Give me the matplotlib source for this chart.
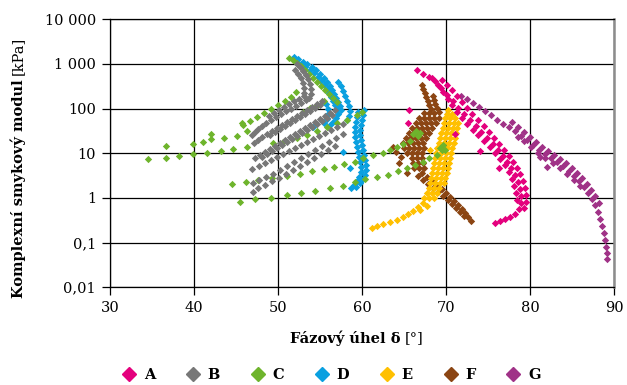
import numpy as np
import matplotlib
matplotlib.use("Agg")
import matplotlib.pyplot as plt
from matplotlib.lines import Line2D

plt.rcParams['font.family'] = ['DejaVu Serif']

# --- data: phase angle [deg] and complex shear modulus [kPa] ---
A_x = [66.5, 67.3, 68.0,
       68.69, 69.40, 70.12, 70.83, 71.43, 72.14, 72.86, 73.57, 74.17, 74.88, 75.60, 76.19, 76.79,
       77.26, 77.74, 78.21, 78.57, 78.81, 78.93, 78.93, 78.69, 78.21, 77.62, 77.02, 76.43, 75.83,
       68.33, 69.05, 69.64, 70.24, 70.71, 71.31, 71.90, 72.50, 73.21, 73.81, 74.52, 75.24, 75.83,
       76.43, 77.02, 77.50, 77.86, 78.10, 78.33, 78.45,
       69.52, 70.12, 70.71, 71.31, 71.90, 72.50, 73.10, 73.81, 74.52, 75.12, 75.71, 76.31, 76.90,
       77.50, 77.98, 78.45, 78.81, 79.17, 79.40, 79.52, 79.52, 79.29,
       65.6, 65.5, 71.1, 74.0, 76.3]
A_y = [730, 600, 510,
       416, 290, 202, 148, 103, 76, 56, 41, 30, 22, 16.2, 11.9, 8.7,
       6.4, 4.7, 3.3, 2.3, 1.59, 1.11, 0.77, 0.57, 0.44, 0.375, 0.34, 0.305, 0.275,
       485, 338, 236, 164, 121, 84, 62, 45, 33, 25.7, 18.9, 13.8, 10.2,
       7.5, 5.5, 3.8, 2.66, 1.85, 1.29, 0.90,
       438, 338, 262, 192, 141, 103, 76, 56, 41, 30, 22, 16.2, 11.9,
       8.7, 6.4, 4.7, 3.4, 2.4, 1.67, 1.17, 0.81, 0.60,
       93, 48, 27, 11.3, 4.7]

B_x = [52.26, 52.62, 52.98, 53.33, 53.57, 53.81, 53.93, 53.93, 53.69,
       52.02, 52.38, 52.74, 52.98, 53.10, 53.10,
       53.33, 52.74, 52.14, 51.55, 50.95, 50.36, 49.76, 49.17, 48.57, 48.10, 47.62, 47.26, 46.90,
       53.10, 52.50, 51.90, 51.31, 50.71, 50.12, 49.52, 48.93,
       55.24, 54.64, 54.05, 53.45, 52.86, 52.26, 51.67, 51.07, 50.48, 49.88, 49.29, 48.69, 48.10, 47.62, 47.14,
       55.00, 54.40, 53.81, 53.21, 52.62, 52.02, 51.43, 50.83, 50.24, 49.64, 49.05,
       56.79, 56.19, 55.60, 55.00, 54.40, 53.81, 53.21, 52.62, 52.02, 51.43, 50.83, 50.24, 49.64,
       49.05, 48.45, 47.86, 47.26,
       56.43, 55.83, 55.24, 54.64, 54.05, 53.45, 52.86, 52.26, 51.67, 51.07, 50.48, 49.88, 49.29,
       48.69, 48.10,
       57.74, 57.02, 56.31, 55.60, 54.88, 54.17, 53.45, 52.74, 52.02, 51.31, 50.60, 49.88, 49.17,
       48.45, 47.74, 46.90,
       57.74, 56.90, 56.07, 55.24, 54.40, 53.57, 52.74, 51.90, 51.07, 50.24, 49.40, 48.57, 47.74, 47.02,
       56.79, 55.95, 55.12, 54.29, 53.45, 52.62, 51.79, 50.95, 50.12, 49.29, 48.45, 47.62, 47.02]
B_y = [1000, 855, 697, 570, 461, 356, 275, 213, 173,
       730, 596, 485, 375, 290, 224,
       156, 134, 115, 98, 89, 76, 65, 56, 48, 41, 35, 30, 25.7,
       192, 164, 148, 127, 109, 93, 80, 68,
       148, 127, 109, 93, 80, 68, 59, 50, 43, 37, 31.6, 27, 23, 19.9, 17,
       121, 103, 89, 76, 65, 56, 48, 41, 35, 30, 25.7,
       93, 80, 68, 59, 50, 43, 37, 31.6, 27, 23, 19.9, 17, 14.6,
       12.5, 10.7, 9.2, 7.9,
       72, 62, 53, 45, 39, 33, 28.5, 24.4, 20.9, 17.9, 15.4, 13.2, 11.3,
       9.7, 8.3,
       45, 39, 33, 28.5, 24.4, 20.9, 17.9, 15.4, 13.2, 11.3, 9.7, 8.3, 7.1,
       6.1, 5.2, 4.5,
       27, 22, 17.9, 14.6, 11.9, 9.7, 7.9, 6.4, 5.2, 4.2, 3.4, 2.95, 2.5, 2.16,
       14.6, 11.9, 9.7, 7.9, 6.4, 5.2, 4.2, 3.4, 2.8, 2.4, 1.95, 1.67, 1.36]

C_x = [34.52, 36.67, 38.21, 39.88, 41.55, 43.21, 44.64, 46.31,
       36.67, 39.88, 41.07, 42.02, 43.57, 45.12, 46.31,
       42.02, 45.71, 44.52, 46.19,
       45.48, 47.26, 49.17, 51.07, 52.74, 54.40, 56.19, 57.71, 59.17, 60.36, 61.79, 63.10, 64.29,
       65.36, 66.31, 67.26, 67.98, 68.93, 69.52, 69.64,
       47.62, 49.29, 51.07, 52.62, 54.05, 55.48, 56.67, 57.86, 59.17, 60.12, 61.31, 62.50, 63.33,
       64.17, 64.88, 65.71,
       66.07, 66.43, 66.67, 66.90, 69.29, 69.88,
       49.40, 50.60, 52.26, 53.45, 54.64, 55.83, 57.02, 58.21, 59.40, 60.00,
       51.31, 51.79, 52.26, 52.74, 53.21, 53.69, 54.17, 54.64, 55.12, 55.60, 56.07, 56.55, 57.02,
       45.83, 46.67, 47.50, 48.33, 49.17, 50.00, 50.83, 51.55, 52.14,
       52.98, 53.81, 54.64, 55.48]
C_y = [7.5, 7.9, 8.7, 9.7, 10.2, 11.3, 12.5, 13.8,
       14.6, 16.2, 17.9, 20.9, 22, 24.4, 31.6,
       27, 48, 2.06, 2.28,
       0.81, 0.95, 1.00, 1.17, 1.29, 1.43, 1.67, 1.85, 2.28, 2.66, 2.95, 3.3, 4.0,
       4.7, 5.5, 6.4, 7.9, 9.2, 11.9, 15.4,
       2.5, 2.8, 3.1, 3.4, 4.0, 4.5, 4.9, 5.8, 6.4, 7.9, 9.2, 10.2, 11.9,
       13.8, 16.2, 18.9,
       27, 31.6, 24.4, 28.5, 13.2, 11.9,
       17, 17.9, 22, 25.7, 31.6, 39, 48, 56, 72, 84,
       1360, 1230, 1050, 900, 730, 596, 485, 395, 321, 261, 213, 173, 141,
       43, 53, 65, 80, 98, 121, 148, 182, 236,
       84, 103, 121, 148]

D_x = [51.90, 52.38, 52.98, 53.45, 54.05, 54.52, 55.00, 55.48, 55.83, 56.19, 56.43, 56.67, 56.90,
       57.14, 57.38, 57.50,
       52.14, 52.74, 53.21, 53.81, 54.29, 54.76, 55.12, 55.48, 55.83, 56.07, 56.31, 56.55, 56.79,
       57.02, 57.14, 56.90, 56.55, 56.19,
       57.14, 57.50, 57.74, 57.98, 58.21, 58.45, 58.57, 58.45, 58.21,
       55.71, 55.95, 55.95, 55.83, 55.48,
       59.52, 59.40, 59.29, 59.17, 59.17, 59.17, 59.29, 59.40, 59.52, 59.64, 59.76, 59.88, 59.88,
       59.64, 59.40, 59.05, 58.69,
       60.24, 60.12, 60.00, 59.88, 59.76, 59.76, 59.88, 60.00, 60.12, 60.24, 60.36, 60.48, 60.48,
       60.36, 60.12, 59.76, 59.29,
       54.17, 57.74, 58.57]
D_y = [1430, 1290, 1100, 1000, 855, 730, 596, 485, 395, 321, 261, 213, 173,
       141, 115, 93,
       1160, 1000, 855, 730, 630, 511, 416, 339, 275, 224, 182, 148, 121,
       98, 76, 62, 50, 43,
       395, 321, 248, 192, 148, 115, 89, 68, 56,
       127, 98, 76, 59, 48,
       84, 65, 50, 39, 30, 23, 17.9, 13.8, 10.7, 8.3, 6.4, 4.9, 3.8,
       2.95, 2.4, 1.95, 1.67,
       93, 72, 56, 43, 33, 25.7, 19.9, 15.4, 11.9, 9.2, 7.1, 5.5, 4.2,
       3.3, 2.66, 2.16, 1.76,
       39, 10.7, 4.7]

E_x = [70.24,
       70.12, 70.71,
       69.88, 70.48, 71.07,
       69.76, 70.36, 70.95, 71.43,
       69.64, 70.24, 70.83, 71.31,
       69.40, 70.00, 70.60, 71.19,
       69.29, 69.88, 70.48, 71.07,
       69.17, 69.76, 70.36, 70.95,
       68.93, 69.52, 70.12, 70.71,
       68.81, 69.40, 70.00, 70.60,
       68.69, 69.29, 69.88, 70.48,
       68.57, 69.17, 69.76, 70.36,
       68.45, 69.05, 69.64, 70.24,
       68.33, 68.93, 69.52, 70.12,
       68.21, 68.81, 69.40, 69.88,
       68.10, 68.69, 69.29, 69.76,
       67.98, 68.57, 69.17,
       67.74, 68.33, 68.93,
       67.38, 67.98, 68.57,
       67.26, 66.67, 66.07, 65.48, 64.88, 64.17, 63.33, 62.50, 61.79, 61.19,
       67.74, 66.90, 68.10]
E_y = [93,
       76, 76,
       62, 62, 62,
       48, 48, 48, 48,
       37, 37, 37, 37,
       28.5, 28.5, 28.5, 28.5,
       22, 22, 22, 22,
       17, 17, 17, 17,
       13.2, 13.2, 13.2, 13.2,
       10.2, 10.2, 10.2, 10.2,
       7.9, 7.9, 7.9, 7.9,
       6.1, 6.1, 6.1, 6.1,
       4.7, 4.7, 4.7, 4.7,
       3.6, 3.6, 3.6, 3.6,
       2.8, 2.8, 2.8, 2.8,
       2.16, 2.16, 2.16, 2.16,
       1.67, 1.67, 1.67,
       1.29, 1.29, 1.29,
       1.00, 1.00, 1.00,
       0.77, 0.63, 0.51, 0.44, 0.375, 0.32, 0.29, 0.26, 0.236, 0.213,
       0.66, 0.54, 11.9]

F_x = [67.14, 67.26, 67.50, 67.62, 67.86, 67.98, 68.21,
       68.45, 68.57, 68.69, 68.93, 69.17,
       67.38, 67.98, 68.57,
       66.79, 67.38, 67.98, 68.57, 69.17,
       66.43, 67.02, 67.62, 68.21, 68.81,
       65.95, 66.55, 67.14, 67.74, 68.33,
       65.60, 66.19, 66.79, 67.38, 67.98,
       65.24, 65.83, 66.43, 67.02, 67.62,
       64.88, 65.48, 66.07, 66.67, 67.26,
       65.00, 65.60, 66.19, 66.79, 67.38,
       65.36, 65.95, 66.55, 67.14,
       65.95, 66.55, 67.14,
       66.07, 66.67, 67.26,
       66.19, 66.79, 67.38,
       67.14, 67.74, 68.33, 68.93, 69.52, 70.00, 70.48, 70.95, 71.43, 71.90, 72.26, 72.62, 72.98,
       66.67, 67.26, 67.86, 68.45, 69.05, 69.64, 70.24, 70.71, 71.19, 71.67, 72.14,
       63.69, 64.05, 64.64, 64.40, 65.36]
F_y = [339, 275, 224, 182, 148, 121, 98,
       192, 156, 127, 103, 84,
       80, 80, 80,
       62, 62, 62, 62, 62,
       48, 48, 48, 48, 48,
       37, 37, 37, 37, 37,
       28.5, 28.5, 28.5, 28.5, 28.5,
       22, 22, 22, 22, 22,
       17, 17, 17, 17, 17,
       13.2, 13.2, 13.2, 13.2, 13.2,
       10.2, 10.2, 10.2, 10.2,
       7.9, 7.9, 7.9,
       6.1, 6.1, 6.1,
       4.7, 4.7, 4.7,
       3.6, 2.95, 2.4, 1.95, 1.59, 1.29, 1.05, 0.86, 0.70, 0.57, 0.46, 0.375, 0.305,
       3.1, 2.5, 2.06, 1.67, 1.36, 1.11, 0.90, 0.73, 0.60, 0.49, 0.40,
       13.8, 10.7, 8.3, 6.1, 3.6]

G_x = [71.79, 72.50, 73.21, 73.93, 74.64, 75.36, 76.07, 76.79, 77.50, 78.21,
       78.93, 79.64, 80.36, 81.07, 81.79, 82.50, 83.21, 83.93, 84.64, 85.24,
       85.83, 86.43, 86.90, 87.38, 87.74, 88.10, 88.33, 88.57, 88.81, 88.93,
       89.05, 89.17, 89.17,
       77.86, 78.57, 79.29, 80.00, 80.71, 81.43, 82.14, 82.86, 83.57, 84.29,
       85.00, 85.60, 86.19, 86.79, 87.26, 87.74, 88.21,
       78.57, 79.29, 80.12, 80.95, 81.79, 82.74, 83.57, 84.40, 85.24, 85.95,
       81.19, 82.02]
G_y = [192, 164, 134, 109, 89, 72, 56, 45, 39, 31.6,
       24.4, 19.9, 15.4, 11.9, 9.7, 7.9, 6.4, 5.2, 4.0, 3.1,
       2.4, 1.76, 1.29, 0.95, 0.70, 0.49, 0.34, 0.236, 0.164, 0.115,
       0.080, 0.059, 0.043,
       50, 39, 30, 23, 17.9, 13.8, 11.3, 9.2, 7.5, 6.1,
       4.7, 3.6, 2.8, 2.06, 1.51, 1.11, 0.77,
       23, 18.9, 13.8, 10.2, 7.9, 6.1, 4.7, 3.4, 2.5, 1.85,
       8.3, 4.9]

names = ['A', 'B', 'C', 'D', 'E', 'F', 'G']
colors = ['#E4007D', '#777777', '#6EB42C', '#0AA0E0', '#FFC000', '#8B4513', '#A03287']
series = [(A_x, A_y), (B_x, B_y), (C_x, C_y), (D_x, D_y), (E_x, E_y), (F_x, F_y), (G_x, G_y)]

y_ticks = [0.01, 0.1, 1, 10, 100, 1000, 10000]
y_labels = ['0,01', '0,1', '1', '10', '100', '1 000', '10 000']
x_ticks = [30, 40, 50, 60, 70, 80, 90]

fig = plt.figure(figsize=(6.27, 3.85), dpi=100)
ax = fig.add_axes([0.1754, 0.2538, 0.8038, 0.6961])

# last series first, so A ends up on top
for i in range(len(series) - 1, -1, -1):
    xs, ys = series[i]
    ax.scatter(xs, ys, marker='D', s=14, color=colors[i], linewidths=0, zorder=3 + (7 - i))

ax.set_yscale('log')
ax.set_xlim(30, 90)
ax.set_ylim(0.01, 10000)
ax.set_xticks(x_ticks)
ax.set_yticks(y_ticks)
ax.set_yticklabels(y_labels)
ax.yaxis.set_minor_locator(matplotlib.ticker.NullLocator())
ax.grid(True, color='black', lw=0.9, zorder=1)
ax.set_axisbelow(True)
ax.tick_params(direction='out', length=6, width=0.9, labelsize=10.5, pad=4)
for s in ['top', 'left', 'bottom']:
    ax.spines[s].set_color('black')
    ax.spines[s].set_linewidth(0.9)
ax.spines['right'].set_color('#8c8c8c')
ax.spines['right'].set_linewidth(1.8)

# axis titles: bold name + regular unit
fig.canvas.draw()
r = fig.canvas.get_renderer()
t1 = fig.text(0.029, 0.226, 'Komplexní smykový modul', rotation=90, rotation_mode='anchor',
              ha='left', va='center', fontsize=10.5, fontweight='bold')
bb = t1.get_window_extent(r)
fig.text(0.029, (bb.y1 + 4) / fig.bbox.height, '[kPa]', rotation=90, rotation_mode='anchor',
         ha='left', va='center', fontsize=10.5)

t2 = fig.text(0.4625, 0.122, 'Fázový úhel δ', ha='left', va='center', fontsize=10.5, fontweight='bold')
bb = t2.get_window_extent(r)
fig.text((bb.x1 + 4) / fig.bbox.width, 0.122, '[°]', ha='left', va='center', fontsize=10.5)

handles = [Line2D([], [], marker='D', ls='', color=c, markersize=7.5) for c in colors]
fig.legend(handles, names, loc='center', bbox_to_anchor=(0.527, 0.027), ncol=7, frameon=False,
           prop={'weight': 'bold', 'size': 10.5}, handletextpad=0.4, columnspacing=2.0,
           handlelength=1.2)

fig.savefig('out.png', dpi=100)
